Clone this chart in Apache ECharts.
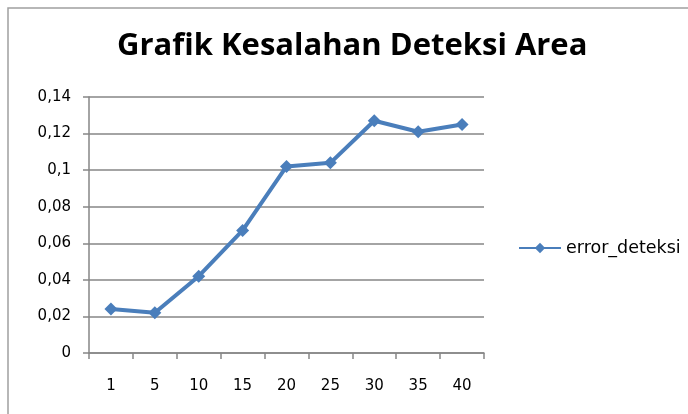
<!DOCTYPE html>
<html>
<head>
<meta charset="UTF-8"/>
<title>Grafik Kesalahan Deteksi Area</title>
<script src="https://cdn.jsdelivr.net/npm/echarts@6/dist/echarts.min.js"></script>
<style>
  html, body { margin: 0; padding: 0; background: #fff; }
  #main { width: 688px; height: 414px; }
</style>
</head>
<body>
<div id="main"></div>
<script>
var categories = ['1', '5', '10', '15', '20', '25', '30', '35', '40'];
var errorDeteksi = [0.024, 0.022, 0.042, 0.067, 0.102, 0.104, 0.127, 0.121, 0.125];
var seriesName = 'error_deteksi';

var chart = echarts.init(document.getElementById('main'));

var option = {
    backgroundColor: '#fff',
    animation: false,
    graphic: [{
        type: 'polyline',
        shape: { points: [[8, 414], [8, 8], [688, 8]] },
        style: { stroke: '#a0a0a0', lineWidth: 1.5, fill: null }
    }],
    title: {
        text: 'Grafik Kesalahan Deteksi Area',
        left: 112,
        top: 26,
        textStyle: {
            fontFamily: 'Open Sans',
            fontWeight: 'bold',
            fontSize: 31,
            color: '#000'
        }
    },
    legend: {
        data: [seriesName],
        orient: 'vertical',
        left: 513,
        top: 234,
        itemWidth: 42,
        itemHeight: 13,
        itemGap: 5,
        textStyle: { fontFamily: 'DejaVu Sans', fontSize: 17.5, color: '#000' }
    },
    grid: { left: 89, right: 204, top: 97, bottom: 61 },
    xAxis: {
        type: 'category',
        data: categories,
        boundaryGap: true,
        axisLine: { lineStyle: { color: '#868686', width: 1.5 } },
        axisTick: { show: true, length: 6, lineStyle: { color: '#868686', width: 1.5 } },
        axisLabel: { margin: 26, fontFamily: 'DejaVu Sans', fontSize: 15, color: '#000' }
    },
    yAxis: {
        type: 'value',
        min: 0,
        max: 0.14,
        interval: 0.02,
        axisLine: { show: true, lineStyle: { color: '#868686', width: 1.5 } },
        axisTick: { show: true, length: 6, lineStyle: { color: '#868686', width: 1.5 } },
        splitLine: { lineStyle: { color: '#868686', width: 1.5 } },
        axisLabel: {
            margin: 18,
            fontFamily: 'DejaVu Sans',
            fontSize: 15,
            color: '#000',
            formatter: function (v) {
                return String(Math.round(v * 100) / 100).replace('.', ',');
            }
        }
    },
    series: [{
        name: seriesName,
        type: 'line',
        data: errorDeteksi,
        symbol: 'diamond',
        symbolSize: 13,
        itemStyle: { color: '#4a7ebb' },
        lineStyle: { color: '#4a7ebb', width: 4 }
    }]
};

chart.setOption(option);
</script>
</body>
</html>
